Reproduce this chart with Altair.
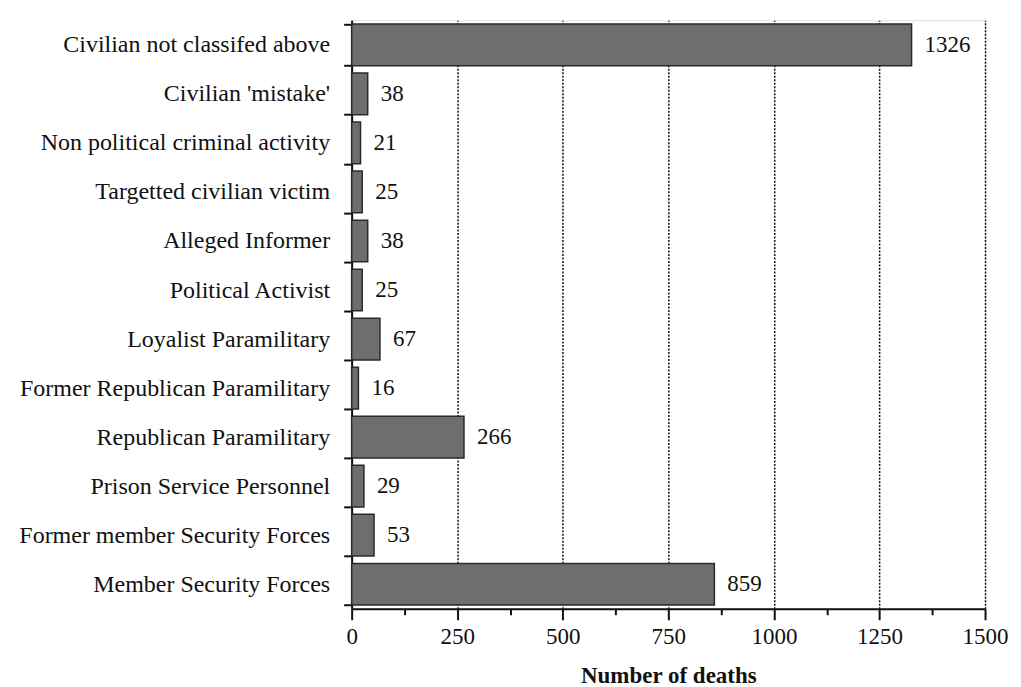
import altair as alt
import pandas as pd

categories = [
    "Civilian not classifed above",
    "Civilian 'mistake'",
    "Non political criminal activity",
    "Targetted civilian victim",
    "Alleged Informer",
    "Political Activist",
    "Loyalist Paramilitary",
    "Former Republican Paramilitary",
    "Republican Paramilitary",
    "Prison Service Personnel",
    "Former member Security Forces",
    "Member Security Forces",
]
deaths = [1326, 38, 21, 25, 38, 25, 67, 16, 266, 29, 53, 859]
tick_values = [0, 125, 250, 375, 500, 625, 750, 875, 1000, 1125, 1250, 1375, 1500]

df = pd.DataFrame({"category": categories, "deaths": deaths})

FONT = "Liberation Serif"

x_enc = alt.X(
    "deaths:Q",
    scale=alt.Scale(domain=[0, 1500], nice=False, zero=True),
    axis=alt.Axis(
        values=tick_values,
        format="d",
        labelExpr="datum.value % 250 === 0 ? datum.label : ''",
        title="Number of deaths",
        titleFont=FONT,
        titleFontSize=23,
        titleFontWeight="bold",
        titleColor="#111",
        titlePadding=16,
        labelFont=FONT,
        labelFontSize=23,
        labelColor="#111",
        labelPadding=6,
        labelFlush=False,
        domainColor="#111",
        domainWidth=2,
        tickColor="#111",
        tickWidth=2,
        tickSize={"condition": {"test": "datum.value % 250 === 0", "value": 11}, "value": 6},
        grid=True,
        gridColor="#111",
        gridWidth=1.5,
        gridDash=[2, 1.5],
        gridOpacity={"condition": {"test": "datum.value % 250 === 0", "value": 1}, "value": 0},
    ),
)

y_enc = alt.Y(
    "category:N",
    sort=categories,
    scale=alt.Scale(paddingInner=0.15, paddingOuter=0.075),
    axis=alt.Axis(
        title=None,
        labelFont=FONT,
        labelFontSize=24,
        labelColor="#111",
        labelPadding=14,
        labelLimit=400,
        tickBand="extent",
        tickSize=8,
        tickWidth=2,
        tickColor="#111",
        domainColor="#111",
        domainWidth=2,
        grid=False,
        minExtent=344,
        maxExtent=344,
    ),
)

bars = alt.Chart(df).mark_bar(
    color="#6e6e6e", stroke="#2a2a2a", strokeWidth=1.5
).encode(x=x_enc, y=y_enc)

labels = alt.Chart(df).mark_text(
    align="left", baseline="middle", dx=13, font=FONT, fontSize=23, color="#111"
).encode(
    x=alt.X("deaths:Q"),
    y=alt.Y("category:N", sort=categories),
    text=alt.Text("deaths:Q", format="d"),
)

chart = (
    alt.layer(bars, labels)
    .properties(width=634, height=589, padding={"left": 0, "top": 0, "right": 5, "bottom": 5})
    .configure_view(stroke="#111", strokeWidth=2)
    .configure(background="white")
)

chart.save("out.html", embed_options={"renderer": "svg", "actions": False})
